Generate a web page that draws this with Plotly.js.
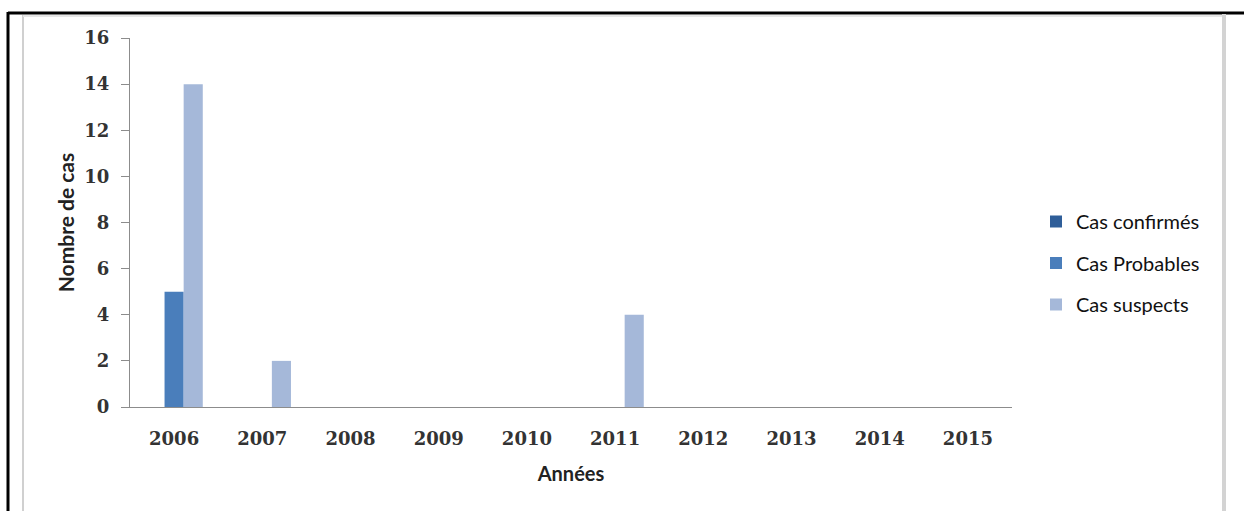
<!DOCTYPE html>
<html><head><meta charset="utf-8">
<script src="https://cdn.plot.ly/plotly-3.0.1.min.js"></script>
<style>html,body{margin:0;padding:0;background:#fff;}#chart{width:1244px;height:511px;}</style>
</head><body><div id="chart"></div>
<script>
const years = ['2006','2007','2008','2009','2010','2011','2012','2013','2014','2015'];
const casConfirmes = [0,0,0,0,0,0,0,0,0,0];
const casProbables = [5,0,0,0,0,0,0,0,0,0];
const casSuspects = [14,2,0,0,0,4,0,0,0,0];
const yTicks = [0,2,4,6,8,10,12,14,16];

const W=1244,H=511,L=130,R=232,T=38,B=104;
const pw=W-L-R, ph=H-T-B;
const px=x=>(x-L)/pw, py=y=>1-(y-T)/ph;

const sans='Lato, "Open Sans", sans-serif';
const serif='"DejaVu Serif", serif';
const traces=[
 {name:'Cas confirmés',y:casConfirmes,color:'#2f5e99'},
 {name:'Cas Probables',y:casProbables,color:'#4a7ebb'},
 {name:'Cas suspects',y:casSuspects,color:'#a5b8d9'}
].map((s,i)=>({type:'bar',x:years,y:s.y,name:s.name,legendgroup:'g'+i,marker:{color:s.color,line:{width:0}},hoverinfo:'x+y'}));

const tickFont={family:serif,size:18,color:'#333',weight:'bold'};
const layout={
 width:W,height:H,margin:{l:L,r:R,t:T,b:B},
 paper_bgcolor:'#fff',plot_bgcolor:'#fff',
 barmode:'group',bargap:0.35,bargroupgap:0,
 font:{family:sans,size:14,color:'#333'},
 xaxis:{type:'category',showgrid:false,showline:true,linecolor:'#8c8c8c',linewidth:1,ticks:'',
   tickfont:tickFont,ticklabelstandoff:15,
   title:{text:'<b>Années</b>',font:{family:sans,size:20,color:'#222'},standoff:19},zeroline:false},
 yaxis:{range:[0,16],tickvals:yTicks,showgrid:false,showline:true,linecolor:'#8c8c8c',linewidth:1,
   ticks:'outside',ticklen:8,tickcolor:'#8c8c8c',zeroline:false,
   tickfont:tickFont,ticklabelstandoff:8,
   title:{text:'<b>Nombre de cas</b>',font:{family:sans,size:21,color:'#222'},standoff:3}},
 legend:{x:px(1036),y:py(202),xanchor:'left',yanchor:'top',tracegroupgap:12.5,
   font:{family:sans,size:20,color:'#111'},itemwidth:30,bgcolor:'rgba(0,0,0,0)'},
 showlegend:true,
 shapes:[
  {type:'line',xref:'paper',yref:'paper',x0:px(8),x1:px(1244),y0:py(13),y1:py(13),line:{color:'#000',width:3}},
  {type:'line',xref:'paper',yref:'paper',x0:px(8),x1:px(8),y0:py(12),y1:py(511),line:{color:'#000',width:3}},
  {type:'line',xref:'paper',yref:'paper',x0:px(23),x1:px(23),y0:py(15),y1:py(511),line:{color:'#d0d0d0',width:2}},
  {type:'line',xref:'paper',yref:'paper',x0:px(23),x1:px(1224),y0:py(16),y1:py(16),line:{color:'#e6e6e6',width:2}},
  {type:'line',xref:'paper',yref:'paper',x0:px(1224),x1:px(1224),y0:py(14),y1:py(511),line:{color:'#d3d3d3',width:4}}
 ]
};
Plotly.newPlot('chart',traces,layout,{displayModeBar:false,staticPlot:true});
</script></body></html>
